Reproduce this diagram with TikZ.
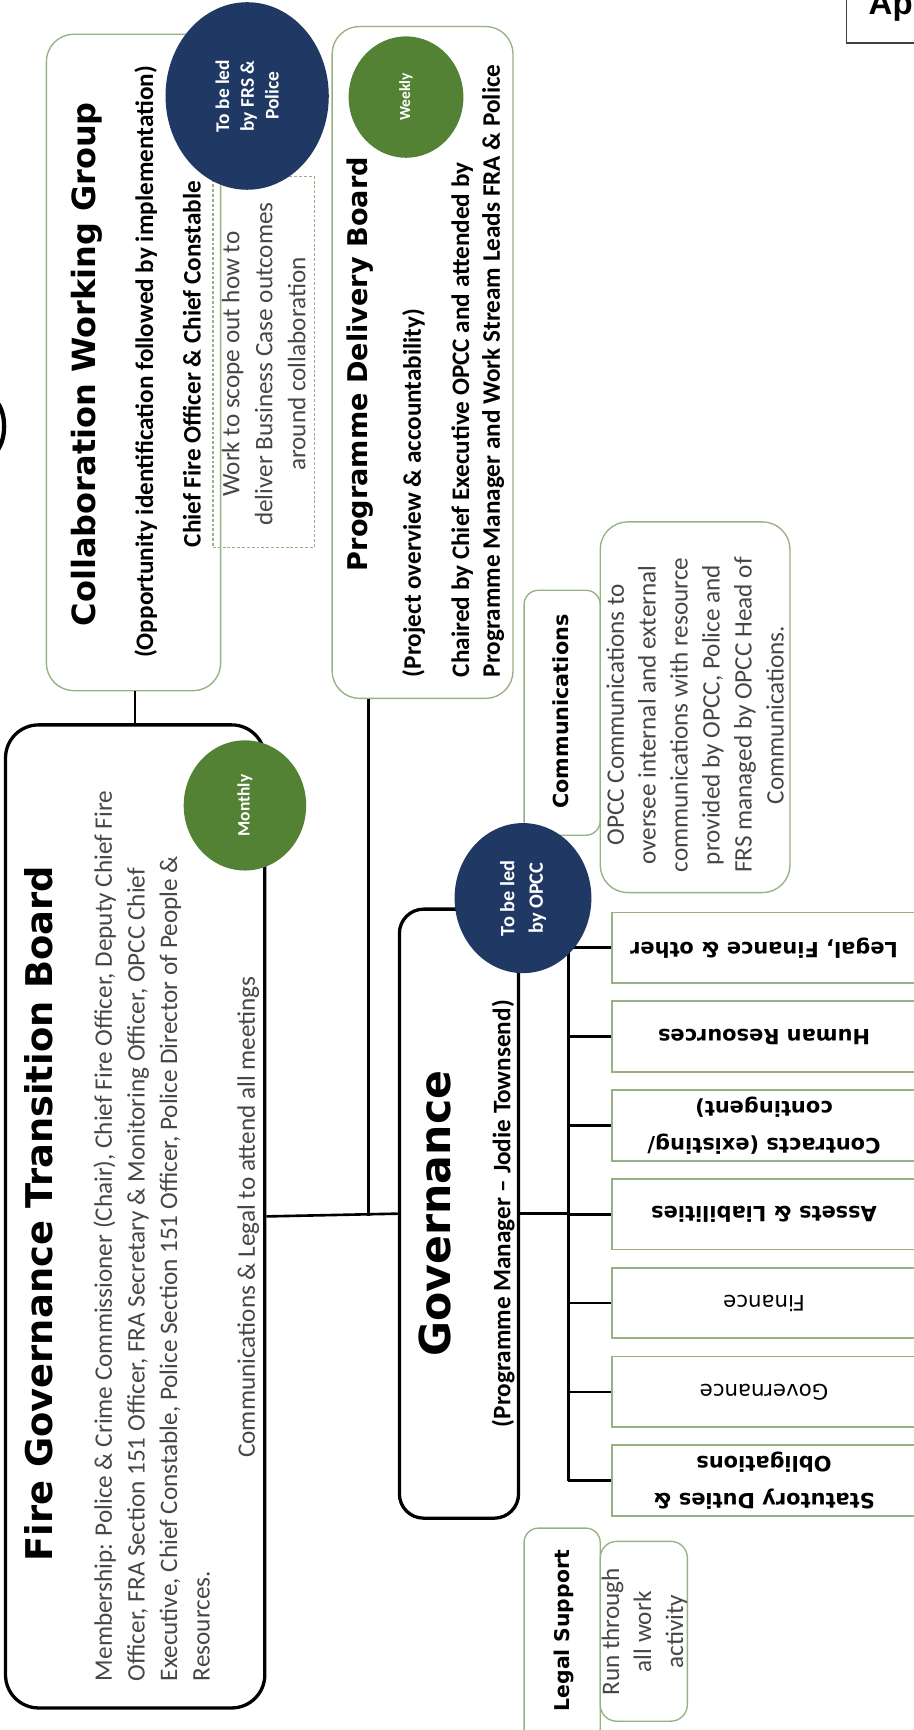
\documentclass[tikz,border=0pt]{standalone}
\usepackage{fontspec}
\setmainfont{Carlito}
\newfontfamily\headfont{DejaVu Sans}
\newfontfamily\tabfont{Liberation Sans}
\usetikzlibrary{shapes.geometric}
\definecolor{navy}{RGB}{31,56,100}
\definecolor{leaf}{RGB}{84,130,53}
\definecolor{sage}{RGB}{150,178,130}
\definecolor{ink}{RGB}{70,70,70}
\newcommand\setfs[2]{\fontsize{#1}{#2}\selectfont}

\begin{document}
\begin{tikzpicture}[x=0.02cm,y=-0.02cm,
  boxsize/.style 2 args={minimum width=#1*0.02cm,minimum height=#2*0.02cm},
  board/.style={draw=black,line width=1.7pt,inner sep=0pt},
  panel/.style={draw=sage,line width=0.7pt,inner sep=0pt},
  blob/.style={ellipse,inner sep=0pt},
  link/.style={line width=1.35pt},
  vtext/.style={inner sep=0pt,rotate=90,text=ink},
  vbold/.style={inner sep=0pt,rotate=90,text=black,font=\bfseries\setfs{13}{16.5}},
  wstext/.style={inner sep=0pt,rotate=180,align=center,font=\headfont\bfseries\setfs{10.8}{19}},
  dottext/.style={inner sep=0pt,rotate=90,align=center,text=white,font=\bfseries\setfs{10}{12.8}}]
\useasboundingbox (0,0) rectangle (828,1568);

% TOP RIGHT
\node[draw=black!75,line width=0.6pt,boxsize={80}{60}] (apbox) at (807,9) {};
\node[anchor=base west,inner sep=0pt,font=\tabfont\bfseries\setfs{17}{20}] (aptext) at (787,13) {Ap};
\draw[line width=2.2pt] (-3,364) .. controls (6,375) and (6,398) .. (-3,409);

% BOXES
\node[panel,rounded corners=0.5cm,boxsize={158}{595}] (cwg) at (121,328.5) {};
\node[panel,dash pattern=on 1.5pt off 1pt,boxsize={92}{336}] (scope) at (239,328) {};
\node[panel,rounded corners=0.5cm,boxsize={164}{609}] (pdb) at (383,328.5) {};
\node[board,rounded corners=0.6cm,boxsize={235}{891}] (fgtb) at (122.5,1102.5) {};
\node[board,rounded corners=0.44cm,boxsize={108}{552}] (gov) at (416,1100) {};
\node[panel,rounded corners=0.26cm,boxsize={69}{222}] (comms) at (509.5,646) {};
\node[panel,rounded corners=0.5cm,boxsize={172}{336}] (commsnote) at (630,641) {};
\node[panel,rounded corners=0.26cm,boxsize={69}{195}] (legal) at (509.5,1482.5) {};
\node[panel,rounded corners=0.3cm,boxsize={79}{163}] (legalnote) at (583.5,1478.5) {};
\foreach \n [count=\i from 0] in {wslegal,wshr,wscontracts,wsassets,wsfinance,wsgov,wsstatutory}
  \node[panel,line width=0.9pt,boxsize={275}{64}] (\n) at (692.5,{859+80.5*\i}) {};

% CONNECTORS
\draw[link] (fgtb.north) -- (fgtb.north |- cwg.south);
\draw[link] (fgtb.east) -- (gov.west);
\coordinate (pdbfoot) at (334,0 |- fgtb.east);
\draw[link] (pdbfoot) -- (pdbfoot |- pdb.south);
\coordinate (bus) at (515,0);
\draw[link] (gov.east) -- (bus |- gov.east);
\draw[link] (bus |- wslegal.west) -- (bus |- wsstatutory.west);
\foreach \n in {wslegal,wshr,wscontracts,wsassets,wsfinance,wsgov,wsstatutory}
  \draw[link] (bus |- \n.west) -- (\n.west);

% CIRCLES
\node[blob,fill=navy,boxsize={148}{170}] (frsled) at (224,87) {};
\node[blob,fill=leaf,boxsize={104}{110}] (weekly) at (368,88) {};
\node[blob,fill=leaf,boxsize={111}{118}] (monthly) at (222,730) {};
\node[blob,fill=navy,boxsize={124}{136}] (opccled) at (474,814) {};
\node[dottext] (frsledtext) at (frsled) {To be led\\by FRS \&\\Police};
\node[dottext,font=\bfseries\setfs{8}{10}] (weeklytext) at (weekly) {Weekly};
\node[dottext,font=\bfseries\setfs{9}{11}] (monthlytext) at (monthly) {Monthly};
\node[dottext,font=\bfseries\setfs{10.5}{14.7}] (opccledtext) at (opccled) {To be led\\by OPCC};

% COLLABORATION
\node[vtext,text=black,font=\headfont\bfseries\setfs{16.5}{20}] (cwgtitle) at (79,330) {Collaboration Working Group};
\node[vbold] (cwgsub) at (132,328) {(Opportunity identification followed by implementation)};
\node[vbold] (cwglead) at (174,330) {Chief Fire Officer \& Chief Constable};
\node[vtext,align=center,font=\setfs{13}{17}] (scopetext) at (239,330) {Work to scope out how to\\deliver Business Case outcomes\\around collaboration};

% PROGRAMME
\node[vtext,text=black,font=\headfont\bfseries\setfs{14}{17}] (pdbtitle) at (326,330) {Programme Delivery Board};
\node[vbold,anchor=west] (pdbsub) at (375,614) {(Project overview \& accountability)};
\node[vbold,anchor=west] (pdbchair) at (419,614) {Chaired by Chief Executive OPCC and attended by};
\node[vbold,anchor=west] (pdbteam) at (447,614) {Programme Manager and Work Stream Leads FRA \& Police};

% TRANSITION BOARD
\node[vtext,text=black,font=\headfont\bfseries\setfs{19}{23}] (fgtbtitle) at (35.5,1100) {Fire Governance Transition Board};
\node[vtext,anchor=west,align=left,font=\setfs{13}{16.8}] (members) at (137.5,1524) {Membership: Police \& Crime Commissioner (Chair), Chief Fire Officer, Deputy Chief Fire\\Officer, FRA Section 151 Officer, FRA Secretary \& Monitoring Officer, OPCC Chief\\Executive, Chief Constable, Police Section 151 Officer, Police Director of People \&\\Resources.};
\node[vtext,font=\setfs{13}{16}] (attend) at (225,1103) {Communications \& Legal to attend all meetings};

% GOVERNANCE
\node[vtext,text=black,font=\headfont\bfseries\setfs{22}{26}] (govtitle) at (394.5,1100) {Governance};
\node[vbold] (govlead) at (456,1100) {(Programme Manager \textendash{} Jodie Townsend)};
\node[wstext] (wslegaltext) at (wslegal) {Legal, Finance \& other};
\node[wstext] (wshrtext) at (wshr) {Human Resources};
\node[wstext] (wscontractstext) at (wscontracts) {Contracts (existing/\\contingent)};
\node[wstext] (wsassetstext) at (wsassets) {Assets \& Liabilities};
\node[wstext,font=\headfont\setfs{11}{19}] (wsfinancetext) at (wsfinance) {Finance};
\node[wstext,font=\headfont\setfs{11}{19}] (wsgovtext) at (wsgov) {Governance};
\node[wstext] (wsstatutorytext) at (wsstatutory) {Statutory Duties \&\\Obligations};

% COMMUNICATIONS / LEGAL
\node[vtext,text=black,font=\headfont\bfseries\setfs{10.7}{13}] (commstitle) at (508,645) {Communications};
\node[vtext,align=center,font=\setfs{13}{16.5}] (commstext) at (630,648) {OPCC Communications to\\oversee internal and external\\communications with resource\\provided by OPCC, Police and\\FRS managed by OPCC Head of\\Communications.};
\node[vtext,text=black,font=\headfont\bfseries\setfs{10.5}{13}] (legaltitle) at (511,1478) {Legal Support};
\node[vtext,align=center,font=\setfs{13}{16.5}] (legaltext) at (584,1479) {Run through\\all work\\activity};
\end{tikzpicture}
\end{document}
